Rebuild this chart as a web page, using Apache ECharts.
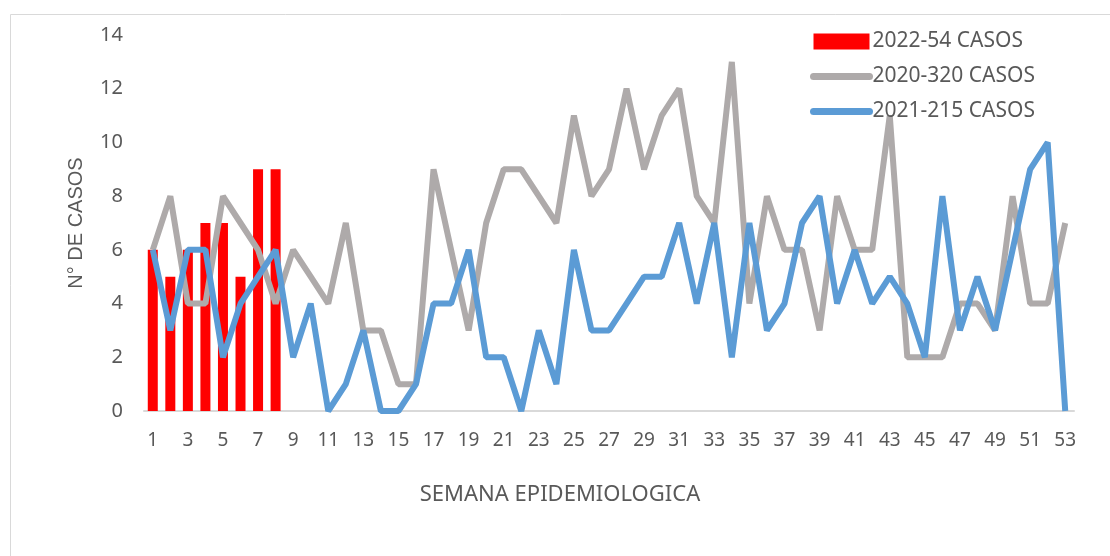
<!DOCTYPE html>
<html>
<head>
<meta charset="utf-8">
<script src="https://cdn.jsdelivr.net/npm/echarts@6/dist/echarts.min.js"></script>
<style>
  html, body { margin: 0; padding: 0; background: #fff; }
  #chart { width: 1110px; height: 556px; }
</style>
</head>
<body>
<div id="chart"></div>
<script>
// semanas epidemiológicas 1..53
const weeks = ['1','2','3','4','5','6','7','8','9','10','11','12','13','14','15','16','17','18','19','20',
  '21','22','23','24','25','26','27','28','29','30','31','32','33','34','35','36','37','38','39','40',
  '41','42','43','44','45','46','47','48','49','50','51','52','53'];

// 2022 (barras, solo primeras 8 semanas)
const cases2022 = [6, 5, 6, 7, 7, 5, 9, 9];

// 2020 (línea gris)
const cases2020 = [6, 8, 4, 4, 8, 7, 6, 4, 6, 5, 4, 7, 3, 3, 1, 1, 9, 6, 3, 7,
  9, 9, 8, 7, 11, 8, 9, 12, 9, 11, 12, 8, 7, 13, 4, 8, 6, 6, 3, 8,
  6, 6, 11, 2, 2, 2, 4, 4, 3, 8, 4, 4, 7];

// 2021 (línea azul)
const cases2021 = [6, 3, 6, 6, 2, 4, 5, 6, 2, 4, 0, 1, 3, 0, 0, 1, 4, 4, 6, 2,
  2, 0, 3, 1, 6, 3, 3, 4, 5, 5, 7, 4, 7, 2, 7, 3, 4, 7, 8, 4,
  6, 4, 5, 4, 2, 8, 3, 5, 3, 6, 9, 10, 0];

const yTicks = { min: 0, max: 14, interval: 2 };

const font = '"Noto Sans", "Liberation Sans", sans-serif';
const txt = '#595959';
const gray = '#AEAAAA', blue = '#5B9BD5', red = '#FF0000';

const chart = echarts.init(document.getElementById('chart'));
chart.setOption({
  animation: false,
  textStyle: { fontFamily: font },
  graphic: [
    {
      type: 'rect', left: 8, top: 12, silent: true,
      shape: { width: 1120, height: 560 },
      style: { fill: 'none', stroke: '#D9D9D9', lineWidth: 1 }
    },
    {
      type: 'text', x: 560, y: 495, silent: true,
      style: { text: 'SEMANA EPIDEMIOLOGICA', fill: txt, font: '22px ' + font,
        align: 'center', verticalAlign: 'middle' }
    }
  ],
  grid: { left: 144, top: 35, width: 930, height: 376 },
  legend: {
    orient: 'vertical', left: 810, top: 31, itemGap: 14, padding: 0,
    itemWidth: 56, itemHeight: 16,
    textStyle: { fontSize: 21, color: txt, fontFamily: font, padding: [0, 0, 0, -2] },
    data: [
      { name: '2022-54 CASOS', icon: 'rect' },
      { name: '2020-320 CASOS', itemStyle: { opacity: 0 }, lineStyle: { width: 7, cap: 'round', color: gray } },
      { name: '2021-215 CASOS', itemStyle: { opacity: 0 }, lineStyle: { width: 7, cap: 'round', color: blue } }
    ]
  },
  xAxis: {
    type: 'category', data: weeks,
    axisLine: { lineStyle: { color: '#D9D9D9', width: 2 } },
    axisTick: { show: false },
    axisLabel: { interval: 1, fontSize: 19, color: txt, margin: 20 }
  },
  yAxis: {
    type: 'value', min: yTicks.min, max: yTicks.max, interval: yTicks.interval,
    name: 'N° DE CASOS', nameLocation: 'middle', nameGap: 58, nameRotate: 90,
    nameTextStyle: { fontSize: 20, color: txt, fontFamily: '"Liberation Sans", sans-serif' },
    axisLine: { show: false }, axisTick: { show: false },
    splitLine: { show: false },
    axisLabel: { fontSize: 20, color: txt, margin: 21 }
  },
  series: [
    {
      name: '2022-54 CASOS', type: 'bar', data: cases2022, barWidth: 10,
      itemStyle: { color: red }
    },
    {
      name: '2020-320 CASOS', type: 'line', data: cases2020, symbol: 'none',
      lineStyle: { color: gray, width: 6 }, itemStyle: { color: gray }
    },
    {
      name: '2021-215 CASOS', type: 'line', data: cases2021, symbol: 'none',
      lineStyle: { color: blue, width: 6 }, itemStyle: { color: blue }
    }
  ]
});
</script>
</body>
</html>
